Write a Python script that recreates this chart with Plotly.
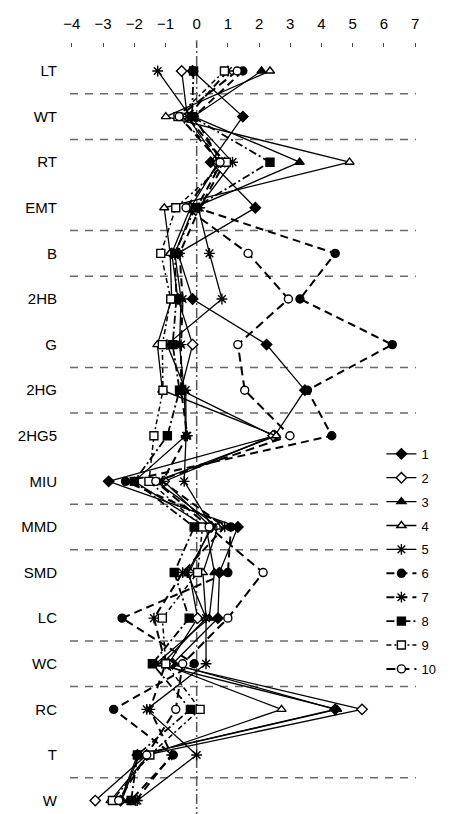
import plotly.graph_objects as go

categories = ["LT", "WT", "RT", "EMT", "B", "2HB", "G", "2HG", "2HG5",
              "MIU", "MMD", "SMD", "LC", "WC", "RC", "T", "W"]

s1 = [-0.13, 1.48, 0.45, 1.88, -0.6, -0.13, 2.24, 3.47, 2.5, -2.82, 1.32, 0.73, 0.68, -0.77, 4.44, -1.9, -2.44]
s2 = [-0.48, -0.3, 0.7, -0.2, -0.8, -0.6, -0.13, -0.5, 2.45, -1.04, 0.46, -0.24, 0.03, -0.9, 5.3, -1.6, -3.25]
s3 = [2.08, -0.1, 3.3, -0.1, -0.7, -0.5, -0.55, -0.4, -0.35, -2.0, 0.3, 0.57, 0.4, -1.31, 4.5, -1.85, -2.4]
s4 = [2.35, -0.99, 4.9, -1.04, -0.85, -0.8, -1.26, -1.1, 2.55, -1.3, 0.68, 0.2, 0.3, -1.1, 2.72, -1.55, -2.76]
s5 = [-1.25, -0.2, 1.15, 0.05, 0.41, 0.81, -0.95, -0.35, -0.34, -0.4, 0.5, -0.3, 0.3, 0.3, -1.6, 0.0, -1.9]
s6 = [1.48, -0.08, 0.8, 0.0, 4.44, 3.31, 6.27, 3.55, 4.33, -2.28, 1.1, 1.0, -2.39, -0.08, -2.66, -0.75, -2.12]
s7 = [1.0, -0.3, 0.9, 0.1, -0.55, -0.45, -0.5, -0.5, -0.3, -1.1, 0.9, -0.45, -1.37, -1.0, -1.5, -0.8, -1.95]
s8 = [-0.1, -0.15, 2.35, -0.05, -0.7, -0.65, -0.77, -0.55, -0.94, -2.0, -0.08, -0.72, -0.24, -1.42, -0.2, -1.9, -2.1]
s9 = [0.89, -0.6, 0.95, -0.67, -1.15, -0.83, -1.1, -1.08, -1.37, -1.53, 0.19, 0.03, -1.1, -0.99, 0.11, -1.5, -2.7]
s10 = [1.3, -0.56, 0.75, -0.34, 1.65, 2.94, 1.32, 1.54, 2.99, -1.31, 0.4, 2.13, 1.0, -0.45, -0.67, -1.6, -2.5]

series = [s1, s2, s3, s4, s5, s6, s7, s8, s9, s10]
names = ["1", "2", "3", "4", "5", "6", "7", "8", "9", "10"]
x_ticks = [-4, -3, -2, -1, 0, 1, 2, 3, 4, 5, 6, 7]

# style per series: symbol, fill, dash, line width
styles = [
    ("diamond", "black", "solid", 1.3),
    ("diamond", "white", "solid", 1.3),
    ("triangle-up", "black", "solid", 1.3),
    ("triangle-up", "white", "solid", 1.3),
    ("asterisk-open", "black", "solid", 1.3),
    ("circle", "black", "8px,5px", 2.0),
    ("asterisk-open", "black", "8px,5px", 2.0),
    ("square", "black", "8px,3px,2px,3px", 1.8),
    ("square", "white", "5px,3px,2px,3px", 1.5),
    ("circle", "white", "9px,5px", 2.0),
]

ypos = list(range(len(categories)))

fig = go.Figure()
for vals, name, (sym, fill, dash, lw) in zip(series, names, styles):
    fig.add_trace(go.Scatter(
        x=vals, y=ypos, name=name, mode="lines+markers",
        legendgroup=name,
        line=dict(color="black", width=lw, dash=dash),
        marker=dict(symbol=sym, size=8 if "asterisk" not in sym else 9,
                    color=fill, line=dict(color="black", width=1.4)),
    ))

# dashed separators between categories (those visible in the reference)
sep_after = [0, 1, 3, 4, 6, 7, 9, 10, 12, 13, 15]
for i in sep_after:
    fig.add_shape(type="line", xref="paper", yref="y", x0=0, x1=1,
                  y0=i + 0.5, y1=i + 0.5,
                  line=dict(color="#6a6a6a", width=1.5, dash="8px,7px"), layer="below")

# vertical reference line at 0
fig.add_shape(type="line", xref="x", yref="paper", x0=0, x1=0, y0=0, y1=1.01,
              line=dict(color="#555555", width=1.5, dash="10px,3px,2px,3px"), layer="below")

fig.update_layout(
    width=454, height=814,
    margin=dict(l=62, r=46, t=40, b=0),
    paper_bgcolor="white", plot_bgcolor="white",
    font=dict(family="Liberation Sans, Arial, sans-serif", color="black", size=13),
    showlegend=True,
    legend=dict(x=0.9, y=0.495, xanchor="left", yanchor="top",
                bgcolor="white", borderwidth=0, tracegroupgap=4,
                font=dict(size=13, color="black")),
    xaxis=dict(side="top", range=[-4.06, 7.03], tickvals=x_ticks,
               showgrid=False, zeroline=False, showline=False,
               ticks="outside", ticklen=4, tickwidth=1, tickcolor="#444",
               ticklabelstandoff=8,
               tickfont=dict(size=15, color="black")),
    yaxis=dict(range=[16.47, -0.504], tickvals=ypos, ticktext=categories,
               showgrid=False, zeroline=False, showline=False,
               ticks="", ticklabelstandoff=12,
               tickfont=dict(size=15, color="black")),
)

fig.write_html("out.html")
